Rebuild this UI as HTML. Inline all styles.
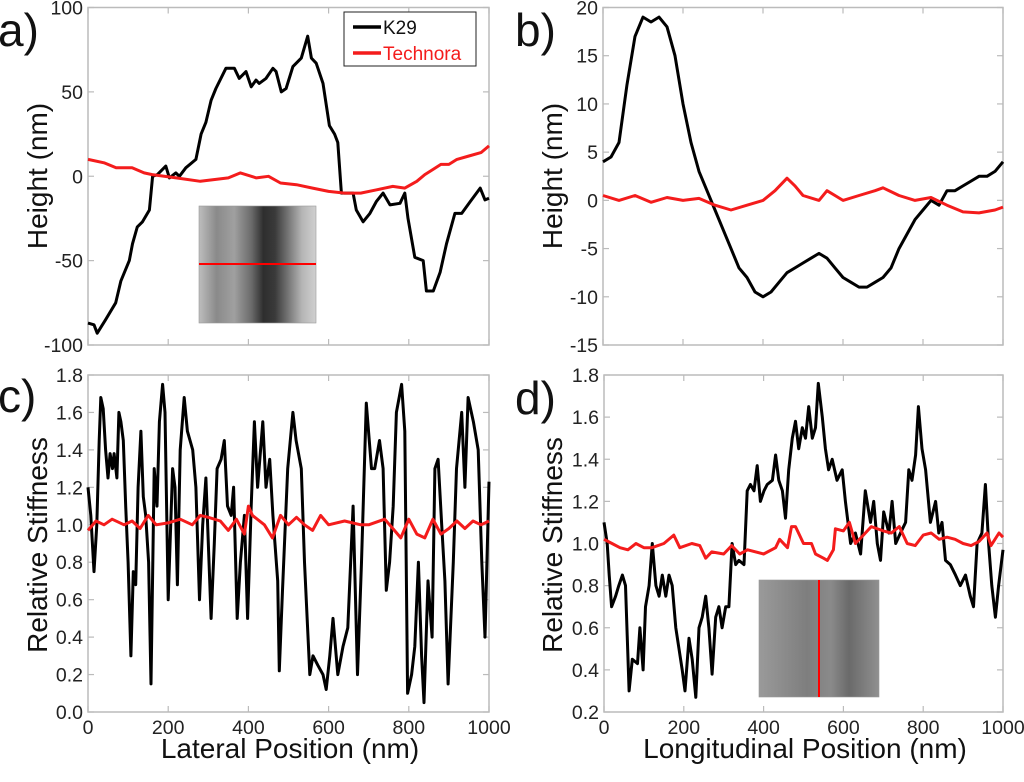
<!DOCTYPE html>
<html><head><meta charset="utf-8"><style>
html,body{margin:0;padding:0;background:#fff;}
svg{display:block;font-family:"Liberation Sans",sans-serif;}
</style></head><body>
<svg id="fig" width="1024" height="782" viewBox="0 0 1024 782">
<defs>
<linearGradient id="ga" x1="0" x2="1" y1="0" y2="0">
<stop offset="0" stop-color="#bdbdbd"/><stop offset="0.15" stop-color="#8a8a8a"/><stop offset="0.3" stop-color="#a0a0a0"/>
<stop offset="0.45" stop-color="#6a6a6a"/><stop offset="0.55" stop-color="#2e2e2e"/><stop offset="0.65" stop-color="#3a3a3a"/>
<stop offset="0.75" stop-color="#6f6f6f"/><stop offset="0.88" stop-color="#b5b5b5"/><stop offset="1" stop-color="#d0d0d0"/>
</linearGradient>
<linearGradient id="gd" x1="0" x2="1" y1="0" y2="0">
<stop offset="0" stop-color="#9a9a9a"/><stop offset="0.2" stop-color="#8c8c8c"/><stop offset="0.4" stop-color="#7e7e7e"/>
<stop offset="0.6" stop-color="#8a8a8a"/><stop offset="0.75" stop-color="#6a6a6a"/><stop offset="1" stop-color="#909090"/>
</linearGradient>
</defs>
</svg>
<script>
// ---- data (nm positions and values) ----
const aBlackX=[0,15,23,44,69,82,103,111,123,136,153,161,173,194,203,219,228,244,269,282,294,307,319,344,365,377,394,407,419,427,444,461,469,482,494,511,532,548,557,569,586,602,615,623,632,661,669,686,703,719,736,753,778,790,798,815,836,844,861,878,894,915,932,953,978,990,1000];
const aBlackY=[-87,-88,-93,-85,-75,-62,-50,-40,-30,-27,-20,0,1,6,-1,2,0,5,10,25,32,45,52,64,64,58,62,53,57,55,58,64,62,50,52,65,70,83,70,67,55,30,25,20,-10,-10,-20,-27,-22,-15,-10,-17,-16,-10,-25,-48,-50,-68,-68,-57,-40,-22,-22,-15,-7,-14,-13];
const aRedX=[0,40,70,110,140,160,220,280,350,380,420,450,480,520,560,600,640,680,720,760,790,820,840,860,880,900,920,950,980,1000];
const aRedY=[10,8,5,5,2,1,-1,-3,-1,2,-1,0,-4,-5,-7,-9,-10,-10,-8,-6,-7,-3,1,4,7,7,10,12,14,18];
const bBlackX=[0,20,40,60,80,100,120,140,160,180,200,220,240,260,280,300,320,340,360,380,400,420,440,460,480,500,520,540,560,580,600,620,640,660,680,700,720,740,760,780,800,820,840,860,880,900,920,940,960,980,1000];
const bBlackY=[4,4.5,6,12,17,19,18.5,19,18,15,10,6,3,1,-1,-3,-5,-7,-8,-9.5,-10,-9.5,-8.5,-7.5,-7,-6.5,-6,-5.5,-6,-7,-8,-8.5,-9,-9,-8.5,-8,-7,-5,-3.5,-2,-1,0,-0.5,1,1,1.5,2,2.5,2.5,3,4];
const bRedX=[0,40,80,120,160,200,240,280,320,360,400,430,460,480,500,540,560,580,600,640,680,700,740,780,820,860,900,940,980,1000];
const bRedY=[0.5,0,0.5,-0.2,0.3,0,0.2,-0.5,-1,-0.5,0,1,2.3,1.5,0.5,0,1,0.5,0,0.5,1,1.3,0.5,0,0.3,-0.5,-1.2,-1.3,-1,-0.7];
const cBlackX=[0,7,15,22,28,32,38,44,50,55,61,65,72,77,82,88,94,100,107,113,119,125,132,138,144,151,157,165,172,178,186,192,200,211,217,223,230,240,248,261,269,278,286,294,307,315,322,332,340,348,357,363,372,380,390,398,407,415,423,436,444,453,461,473,477,485,498,511,519,532,540,553,561,573,586,594,603,611,623,636,648,661,672,682,694,707,715,727,736,744,752,761,769,782,790,797,807,815,824,832,838,848,858,865,873,882,890,898,911,919,932,940,948,961,973,982,990,1000];
const cBlackY=[1.2,1.05,0.75,1.0,1.45,1.68,1.62,1.4,1.25,1.38,1.3,1.38,1.25,1.6,1.55,1.45,1.1,0.8,0.3,0.75,0.68,1.2,1.5,1.15,1.05,0.8,0.15,1.3,1.1,1.55,1.75,1.6,0.6,1.3,1.2,0.68,1.4,1.68,1.5,1.4,1.2,0.6,1.0,1.25,0.5,0.9,1.3,1.35,1.45,1.1,1.05,1.2,0.5,0.8,1.05,0.5,1.1,1.55,1.2,1.55,1.2,1.35,1.05,0.7,0.22,0.65,1.3,1.6,1.45,1.3,0.8,0.2,0.3,0.25,0.2,0.12,0.3,0.5,0.2,0.35,0.45,1.1,0.2,0.8,1.65,1.3,1.3,1.45,1.3,0.65,0.8,1.1,1.6,1.75,1.5,0.1,0.2,0.35,0.8,0.3,0.05,0.7,0.4,1.3,1.35,1.0,0.7,0.15,0.8,1.3,1.6,1.2,1.68,1.55,1.4,0.8,0.4,1.23];
const cRedX=[0,20,40,60,90,110,130,150,170,200,230,260,280,300,330,350,370,390,400,410,440,460,480,500,520,540,560,580,600,640,680,700,740,760,780,800,820,840,860,880,900,920,940,960,980,1000];
const cRedY=[0.97,1.02,1.0,1.03,1.0,1.02,0.98,1.05,1.0,1.01,1.03,1.0,1.05,1.04,1.02,0.97,1.03,0.95,1.1,1.05,1.0,0.93,1.05,1.0,1.04,1.0,0.97,1.05,1.0,1.02,1.0,1.0,1.03,0.98,0.93,1.03,0.95,0.93,1.03,0.95,0.98,1.02,0.98,1.02,1.0,1.02];
const dBlackX=[0,8,13,19,29,37,46,54,63,71,84,90,98,104,113,121,130,138,146,155,163,171,180,188,196,203,213,221,230,238,246,255,263,271,280,288,296,305,313,321,330,338,351,359,367,376,384,392,401,409,422,430,438,447,455,463,472,480,488,497,505,513,522,530,537,547,555,563,572,584,597,605,618,630,643,655,668,676,685,693,701,714,722,731,743,756,764,772,781,788,797,806,818,831,839,847,856,868,881,893,906,918,926,935,947,956,964,972,981,989,1000];
const dBlackY=[1.1,1.0,0.85,0.7,0.75,0.8,0.85,0.8,0.3,0.45,0.43,0.6,0.4,0.7,0.8,1.0,0.8,0.75,0.85,0.75,0.85,0.8,0.6,0.5,0.4,0.3,0.55,0.45,0.27,0.6,0.65,0.75,0.6,0.38,0.65,0.7,0.6,0.7,0.7,1.0,0.9,0.92,0.9,1.25,1.28,1.25,1.37,1.2,1.25,1.28,1.3,1.42,1.3,1.25,1.12,1.35,1.5,1.58,1.45,1.55,1.5,1.65,1.5,1.55,1.76,1.6,1.45,1.35,1.4,1.3,1.35,1.2,1.0,1.05,0.95,1.25,1.1,1.2,1.0,0.92,1.15,1.05,1.2,1.0,1.05,1.1,1.35,1.3,1.42,1.65,1.45,1.35,1.1,1.2,1.05,1.1,0.92,0.9,0.85,0.8,0.85,0.75,0.7,1.0,1.05,1.28,1.0,0.8,0.65,0.8,0.97];
const dRedX=[0,20,40,60,80,100,120,150,175,190,220,240,255,270,300,320,340,360,400,430,440,460,470,480,500,520,530,550,560,575,580,600,615,630,650,670,700,720,740,760,780,800,820,840,860,880,900,920,940,960,970,990,1000];
const dRedY=[1.02,1.0,0.98,0.97,1.0,0.98,0.98,1.0,1.04,0.98,1.0,0.99,0.93,0.96,0.95,0.99,0.95,0.97,0.95,0.98,1.02,0.98,1.08,1.08,1.0,1.0,0.95,0.93,0.92,0.97,1.07,1.06,1.1,1.0,1.04,1.08,1.06,1.05,1.08,1.0,0.99,1.04,1.05,1.02,1.03,1.02,1.0,0.99,1.01,1.05,0.99,1.05,1.03];
const aTicks=[-100,-50,0,50,100];
const bTicks=[-15,-10,-5,0,5,10,15,20];
const cTicks=[0,0.2,0.4,0.6,0.8,1,1.2,1.4,1.6,1.8];
const dTicks=[0.2,0.4,0.6,0.8,1,1.2,1.4,1.6,1.8];
const xTicks=[0,200,400,600,800,1000];

const NS='http://www.w3.org/2000/svg';
const svg=document.getElementById('fig');
function mk(tag,attrs,parent){const e=document.createElementNS(NS,tag);for(const k in attrs)e.setAttribute(k,attrs[k]);(parent||svg).appendChild(e);return e;}
function txt(s,attrs,parent){const e=mk('text',attrs,parent);e.textContent=s;return e;}

function panel(p){
  const g=mk('g',{});
  
  
  const sx=v=>p.x0+(v-0)/1000*(p.x1-p.x0);
  const sy=v=>p.y1-(v-p.ymin)/(p.ymax-p.ymin)*(p.y1-p.y0);
  const box=mk('rect',{x:p.x0,y:p.y0,width:p.x1-p.x0,height:p.y1-p.y0,fill:'none',stroke:'#bbb','stroke-width':1.5},g);
  
  p.yt.forEach(t=>{
    const y=sy(t);
    mk('line',{x1:p.x0,x2:p.x0+6,y1:y,y2:y,stroke:'#bbb','stroke-width':1.2},g);
    mk('line',{x1:p.x1,x2:p.x1-6,y1:y,y2:y,stroke:'#bbb','stroke-width':1.2},g);
    const l=txt(p.fmt(t),{x:p.x0-5,y:y+7,'text-anchor':'end','font-size':19.5,fill:'#222'},g);
    
  });
  xTicks.forEach(t=>{
    const x=sx(t);
    mk('line',{x1:x,x2:x,y1:p.y1,y2:p.y1-6,stroke:'#bbb','stroke-width':1.2},g);
    mk('line',{x1:x,x2:x,y1:p.y0,y2:p.y0+6,stroke:'#bbb','stroke-width':1.2},g);
    if(p.xlabels){const l=txt(String(t),{x:x,y:p.y1+22,'text-anchor':'middle','font-size':19.5,fill:'#222'},g);
      }
  });
  if(p.inset) p.inset(g);
  const line=(X,Y,col,nm)=>{
    const d=X.map((v,i)=>(i?'L':'M')+sx(v).toFixed(1)+','+sy(Y[i]).toFixed(1)).join('');
    const e=mk('path',{d:d,fill:'none',stroke:col,'stroke-width':3,'stroke-linejoin':'round'},g);
    
  };
  line(p.bx,p.by,'#000','k29-line');
  line(p.rx,p.ry,'#f41c1c','technora-line');
  const lab=txt(p.label,{x:p.lx,y:p.ly,'font-size':46,fill:'#111'},g);
  
  return g;
}
const f0=t=>String(t);
const f1=t=>t.toFixed(1);

panel({name:'panel-a-height-lateral',x0:88,x1:489,y0:7.5,y1:345,ymin:-100,ymax:100,yt:aTicks,fmt:f0,xlabels:false,
  bx:aBlackX,by:aBlackY,rx:aRedX,ry:aRedY,label:'a)',lx:-2,ly:46,
  inset:g=>{const r=mk('rect',{x:199,y:206,width:117,height:117,fill:'url(#ga)',stroke:'#999','stroke-width':0.6},g);
    
    mk('line',{x1:199,x2:316,y1:264,y2:264,stroke:'#f00','stroke-width':2},g);}});
panel({name:'panel-b-height-longitudinal',x0:603,x1:1003,y0:7.5,y1:345,ymin:-15,ymax:20,yt:bTicks,fmt:f0,xlabels:false,
  bx:bBlackX,by:bBlackY,rx:bRedX,ry:bRedY,label:'b)',lx:515,ly:46});
panel({name:'panel-c-stiffness-lateral',x0:88,x1:489,y0:375,y1:712,ymin:0,ymax:1.8,yt:cTicks,fmt:f1,xlabels:true,
  bx:cBlackX,by:cBlackY,rx:cRedX,ry:cRedY,label:'c)',lx:-2,ly:412});
panel({name:'panel-d-stiffness-longitudinal',x0:604,x1:1003,y0:375,y1:712,ymin:0.2,ymax:1.8,yt:dTicks,fmt:f1,xlabels:true,
  bx:dBlackX,by:dBlackY,rx:dRedX,ry:dRedY,label:'d)',lx:515,ly:414,
  inset:g=>{const r=mk('rect',{x:759,y:580,width:120,height:117,fill:'url(#gd)',stroke:'#999','stroke-width':0.6},g);
    
    mk('line',{x1:819,x2:819,y1:580,y2:697,stroke:'#f00','stroke-width':2},g);}});

const t1=txt('Height (nm)',{x:0,y:0,transform:'translate(47,176) rotate(-90)','text-anchor':'middle','font-size':28,fill:'#111'});

const t2=txt('Height (nm)',{x:0,y:0,transform:'translate(562,176) rotate(-90)','text-anchor':'middle','font-size':28,fill:'#111'});

const t3=txt('Relative Stiffness',{x:0,y:0,transform:'translate(47,545) rotate(-90)','text-anchor':'middle','font-size':28,fill:'#111'});

const t4=txt('Relative Stiffness',{x:0,y:0,transform:'translate(562,545) rotate(-90)','text-anchor':'middle','font-size':28,fill:'#111'});

const t5=txt('Lateral Position (nm)',{x:290,y:758,'text-anchor':'middle','font-size':28,fill:'#111'});

const t6=txt('Longitudinal Position (nm)',{x:805,y:758,'text-anchor':'middle','font-size':28,fill:'#111'});


const lg=mk('g',{});

mk('rect',{x:344,y:12,width:132,height:54,fill:'#fff',stroke:'#222','stroke-width':1},lg);
const le1=mk('g',{},lg);

mk('line',{x1:353,x2:381,y1:27,y2:27,stroke:'#000','stroke-width':3.5},le1);
txt('K29',{x:383,y:34,'font-size':19,fill:'#111'},le1);
const le2=mk('g',{},lg);

mk('line',{x1:353,x2:381,y1:53,y2:53,stroke:'#f41c1c','stroke-width':3.5},le2);
txt('Technora',{x:383,y:60,'font-size':19,fill:'#f41c1c'},le2);
</script>
</body></html>
